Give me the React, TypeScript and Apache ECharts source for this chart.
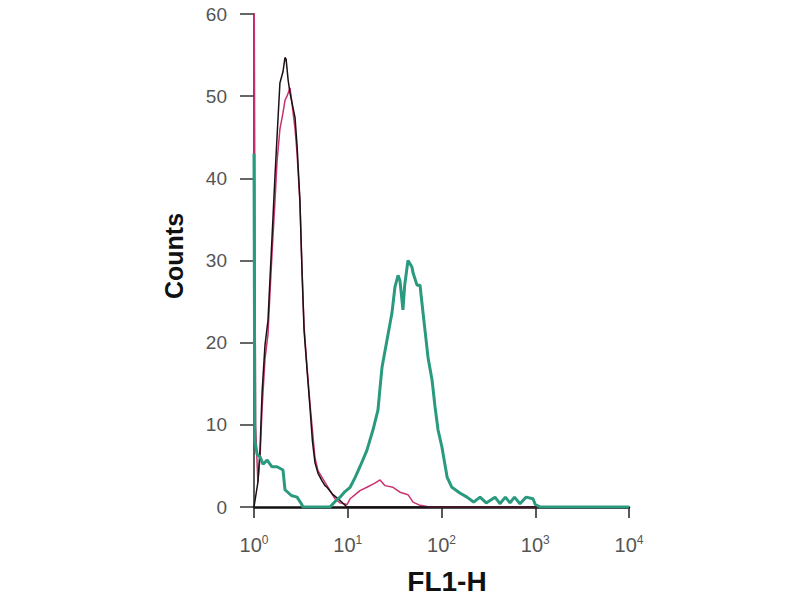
import React, { useEffect, useRef } from "react";
import * as echarts from "echarts";

const yTicks = [0, 10, 20, 30, 40, 50, 60];
const xTickExponents = [0, 1, 2, 3, 4];

// [FL1-H value, counts]
const blackSeries: [number, number][] = [
  [1.0, 0], [1.1, 3], [1.16, 7], [1.22, 14], [1.31, 19.7], [1.41, 22.7], [1.48, 27.7],
  [1.56, 33], [1.67, 40], [1.76, 45], [1.89, 51.6], [2.04, 53], [2.14, 54.7], [2.2, 54.5],
  [2.31, 52], [2.42, 50.4], [2.74, 47.4], [2.88, 44], [3.09, 37.3], [3.25, 28.8],
  [3.42, 21.5], [3.68, 16.7], [3.96, 12], [4.2, 8], [4.47, 5.4], [4.82, 4.1], [5.3, 3.2],
  [5.72, 2.6], [6.01, 2.4], [6.96, 1.5], [8.27, 0.8], [9.82, 0], [10000, 0],
];

const magentaSeries: [number, number][] = [
  [1.0, 70], [1.04, 10], [1.1, 3], [1.16, 6], [1.22, 12], [1.31, 18], [1.41, 21],
  [1.48, 26], [1.56, 31], [1.67, 37], [1.76, 42], [1.89, 46], [2.04, 48], [2.14, 49.5],
  [2.25, 50], [2.42, 51], [2.55, 49], [2.74, 46], [2.88, 43], [3.09, 37], [3.25, 29],
  [3.42, 22], [3.68, 17], [3.96, 12.5], [4.47, 6], [4.82, 4.4], [5.72, 3], [6.47, 2],
  [7.31, 1], [8.27, 0.5], [9.82, 0.3], [10.6, 1], [12, 1.5], [13.5, 2], [16, 2.4],
  [19.5, 2.9], [22.1, 3.3], [25, 2.6], [30.4, 2.4], [36.1, 1.8], [43.9, 1.5],
  [49.7, 0.6], [59, 0.2], [75, 0], [10000, 0],
];

const tealSeries: [number, number][] = [
  [1.0, 43], [1.02, 8], [1.08, 6.4], [1.16, 6.1], [1.25, 5.2], [1.38, 5.7], [1.55, 4.9],
  [1.76, 4.9], [2.04, 4.5], [2.14, 2.1], [2.5, 1.4], [2.88, 1.2], [3.2, 0.4], [3.33, 0],
  [6.47, 0], [7.5, 0.8], [8.27, 1.2], [9.2, 1.8], [10.6, 2.4], [12, 3.6], [13.5, 4.9],
  [16, 6.9], [18.6, 9.4], [21, 11.8], [22.1, 14.5], [23.2, 17], [26.2, 20.3],
  [29.6, 23.6], [31.9, 26.8], [34.4, 28.2], [36.1, 27.5], [38.8, 24], [40.5, 27],
  [43.9, 30], [48.4, 29.2], [49.7, 28.5], [54.8, 27], [59, 27], [61.9, 24.8],
  [66.7, 21.5], [71.8, 18.2], [79.2, 15.5], [85.3, 12.2], [91.8, 9.4], [101, 7.3],
  [115, 3.6], [129, 2.4], [157, 1.7], [187, 1.2], [220, 0.6], [258, 1.2], [300, 0.5],
  [372, 1.2], [420, 0.4], [480, 1.2], [538, 0.5], [600, 1.2], [687, 0.4], [800, 1.2],
  [946, 1.0], [1000, 0.3], [1125, 0], [10000, 0],
];

export default function App() {
  const ref = useRef<HTMLDivElement>(null);
  useEffect(() => {
    if (!ref.current) return;
    const chart = echarts.init(ref.current, undefined, { renderer: "svg" });
    chart.setOption({
      animation: false,
      backgroundColor: "#ffffff",
      grid: { left: 254, right: 171, top: 14, bottom: 93, containLabel: false },
      xAxis: {
        type: "log",
        logBase: 10,
        min: Math.pow(10, xTickExponents[0]),
        max: Math.pow(10, xTickExponents[xTickExponents.length - 1]),
        splitLine: { show: false },
        minorTick: { show: false },
        axisLine: { show: true, onZero: false, lineStyle: { color: "#111", width: 2.5 } },
        axisTick: { show: true, length: 11, lineStyle: { color: "#222", width: 1.5 } },
        axisLabel: {
          margin: 27,
          formatter: (v: number) => `{b|10}{s|${Math.round(Math.log10(v))}}`,
          rich: {
            b: { fontSize: 20, color: "#555", fontFamily: "Liberation Sans, Arial, sans-serif", lineHeight: 22 },
            s: { fontSize: 12, color: "#555", fontFamily: "Liberation Sans, Arial, sans-serif", verticalAlign: "top", lineHeight: 22, padding: [0, 0, 8, 0] },
          },
        },
      },
      yAxis: {
        type: "value",
        min: yTicks[0],
        max: yTicks[yTicks.length - 1],
        interval: 10,
        splitLine: { show: false },
        axisLine: { show: true, lineStyle: { color: "#222", width: 1.5 } },
        axisTick: { show: true, length: 14, lineStyle: { color: "#333", width: 1.5 } },
        axisLabel: {
          margin: 27,
          fontSize: 19,
          color: "#555",
          fontFamily: "Liberation Sans, Arial, sans-serif",
        },
      },
      series: [
        {
          type: "line",
          data: magentaSeries,
          showSymbol: false,
          symbol: "none",
          lineStyle: { color: "#c8326e", width: 1.5 },
          z: 2,
        },
        {
          type: "line",
          data: blackSeries,
          showSymbol: false,
          symbol: "none",
          lineStyle: { color: "#1a1015", width: 1.5 },
          z: 3,
        },
        {
          type: "line",
          data: tealSeries,
          showSymbol: false,
          symbol: "none",
          lineStyle: { color: "#2a9a7e", width: 3 },
          z: 4,
        },
      ],
      graphic: [
        {
          type: "text",
          x: 174,
          y: 256,
          rotation: Math.PI / 2,
          style: {
            text: "Counts",
            fontSize: 25,
            fontWeight: "bold",
            fontFamily: "Liberation Sans, Arial, sans-serif",
            fill: "#111",
            textAlign: "center",
            textVerticalAlign: "middle",
          },
        },
        {
          type: "text",
          x: 447,
          y: 581,
          style: {
            text: "FL1-H",
            fontSize: 28,
            fontWeight: "bold",
            fontFamily: "Liberation Sans, Arial, sans-serif",
            fill: "#111",
            textAlign: "center",
            textVerticalAlign: "middle",
          },
        },
      ],
    });
    return () => chart.dispose();
  }, []);
  return <div ref={ref} style={{ width: 800, height: 600, position: "absolute", left: 0, top: 0 }} />;
}
